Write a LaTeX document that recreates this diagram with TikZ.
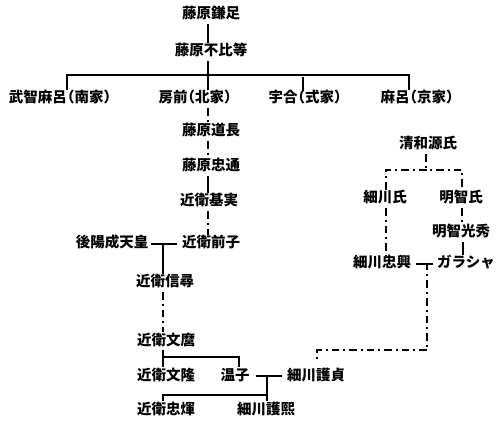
\documentclass[tikz,border=0pt]{standalone}
\usepackage{fontspec}
\newfontfamily\jp{Noto Sans CJK JP}
\newcommand{\lpar}{\kern-7pt（}
\newcommand{\rpar}{）\kern-7pt}
\begin{document}
\begin{tikzpicture}[x=1pt,y=-1pt,
  person/.style={inner sep=2pt, text height=11pt, text depth=3pt,
    font=\jp\bfseries\fontsize{14.5}{16}\selectfont},
  line/.style={line width=1.6pt},
  dashdot/.style={line width=1.6pt, dash pattern=on 7.5pt off 4pt on 2pt off 4pt}]
\useasboundingbox[fill=white] (0,0) rectangle (500,427);
% nodes
\node[person] (kamatari) at (211,15) {藤原鎌足};
\node[person] (fuhito) at (211,52) {藤原不比等};
\node[person] (takechi) at (60,99) {武智麻呂\lpar 南家\rpar};
\node[person] (fusasaki) at (195,99) {房前\lpar 北家\rpar};
\node[person] (umakai) at (305,99) {宇合\lpar 式家\rpar};
\node[person] (maro) at (417,99) {麻呂\lpar 京家\rpar};
\node[person] (michinaga) at (211,132) {藤原道長};
\node[person] (tadamichi) at (211,167) {藤原忠通};
\node[person] (motozane) at (209,202) {近衛基実};
\node[person] (sakiko) at (211,244) {近衛前子};
\node[person] (goyozei) at (112,244) {後陽成天皇};
\node[person] (nobuhiro) at (165,283) {近衛信尋};
\node[person] (fumimaro) at (166,341) {近衛文麿};
\node[person] (fumitaka) at (166,376) {近衛文隆};
\node[person] (onko) at (235,376) {温子};
\node[person] (morisada) at (316,376) {細川護貞};
\node[person] (tadateru) at (166,410) {近衛忠煇};
\node[person] (morihiro) at (266,410) {細川護熙};
\node[person] (seiwa) at (428,145) {清和源氏};
\node[person] (hosokawashi) at (385,199) {細川氏};
\node[person] (akechishi) at (461,199) {明智氏};
\node[person] (mitsuhide) at (461,233) {明智光秀};
\node[person] (tadaoki) at (382,264) {細川忠興};
\node[person] (gracia) at (466,264) {ガラシャ};
% junction coordinates
\coordinate (trunk) at (208,75);
\coordinate (nobu) at (163,244);
\coordinate (fumi) at (163,357);
\coordinate (mari) at (267,375);
\coordinate (kids) at (267,395);
\coordinate (seiwaj) at (426,170);
\coordinate (hosox) at (386,0);
\coordinate (akex) at (462,0);
\coordinate (mitx) at (463,0);
\coordinate (tadaj) at (427,263);
\coordinate (hosoj) at (427,350);
% Fujiwara
\draw[line] (kamatari.south -| trunk) -- (fuhito.north -| trunk);
\draw[line] (fuhito.south -| trunk) -- (trunk);
\draw[line] ([xshift=7pt]takechi.north) |- (trunk) -| ([xshift=-8pt]maro.north);
\draw[line] (trunk) -- (fusasaki.north -| trunk);
\draw[line] ([xshift=-2pt]umakai.north) -- ([xshift=-2pt,yshift=13pt]umakai.north);
\draw[dashdot] (fusasaki.south -| trunk) -- (michinaga.north -| trunk);
\draw[dashdot] (michinaga.south -| trunk) -- (tadamichi.north -| trunk);
\draw[line] (tadamichi.south -| trunk) -- (motozane.north -| trunk);
\draw[dashdot] (motozane.south -| trunk) -- (sakiko.north -| trunk);
% Konoe
\draw[line] ([xshift=1pt]goyozei.east) -- ([xshift=-3pt]sakiko.west);
\draw[line] (nobu) -- (nobuhiro.north -| nobu);
\draw[dashdot] (nobuhiro.south -| nobu) -- (fumimaro.north -| nobu);
\draw[line] (fumimaro.south -| nobu) -- (fumitaka.north -| nobu);
\draw[line] (fumi) -| ([xshift=4pt]onko.north);
\draw[line] ([xshift=4pt]onko.east) -- ([xshift=-3pt]morisada.west);
\draw[line] (mari) -- (morihiro.north -| mari);
\draw[line] (tadateru.north -| nobu) |- (kids);
% Seiwa Genji
\draw[dashdot] (seiwa.south -| seiwaj) -- (seiwaj);
\draw[dashdot] (hosokawashi.north -| hosox) |- (seiwaj) -| (akechishi.north -| akex);
\draw[dashdot] (hosokawashi.south -| hosox) -- (tadaoki.north -| hosox);
\draw[dashdot] (akechishi.south -| akex) -- (mitsuhide.north -| akex);
\draw[line] (mitsuhide.south -| mitx) -- (gracia.north -| mitx);
\draw[line] ([xshift=3pt]tadaoki.east) -- ([xshift=-2pt]gracia.west);
\draw[dashdot] (tadaj) -- (hosoj) -| ([xshift=1pt,yshift=7pt]morisada.north);
\end{tikzpicture}
\end{document}
